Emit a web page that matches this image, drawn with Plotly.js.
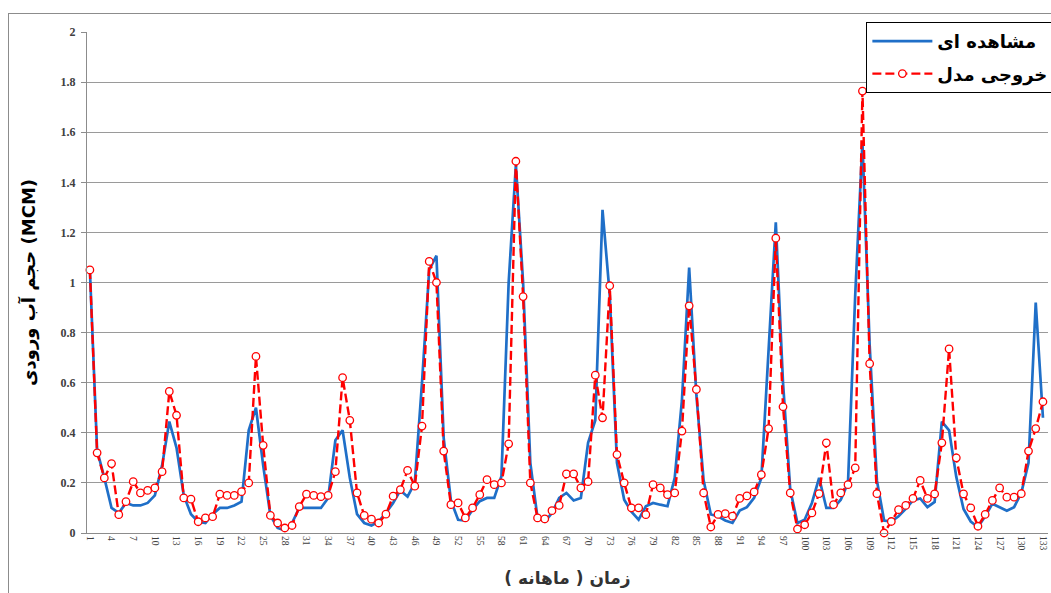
<!DOCTYPE html>
<html>
<head>
<meta charset="utf-8">
<script src="https://cdn.plot.ly/plotly-3.0.1.min.js"></script>
<style>
html,body{margin:0;padding:0;background:#fff;overflow:hidden;}
#frame{position:absolute;left:8px;top:13px;width:1100px;height:700px;border:1px solid #8c8c8c;box-sizing:border-box;}
#chart{position:absolute;left:0;top:0;width:1051px;height:593px;}
</style>
</head>
<body>
<div id="frame"></div>
<div id="chart"></div>
<script>
// Observed monthly inflow volume (MCM)
const observed = [
1.05,0.33,0.22,0.10,0.08,0.12,0.11,0.11,0.12,0.15,
0.27,0.445,0.34,0.15,0.075,0.045,0.04,0.075,0.10,0.10,
0.11,0.125,0.41,0.50,0.27,0.07,0.02,0.01,0.04,0.10,
0.10,0.10,0.10,0.14,0.37,0.41,0.22,0.075,0.04,0.03,
0.045,0.08,0.12,0.17,0.145,0.20,0.60,1.05,1.107,0.38,
0.13,0.053,0.05,0.093,0.127,0.14,0.14,0.227,1.00,1.47,
1.00,0.28,0.06,0.045,0.08,0.14,0.16,0.13,0.14,0.36,
0.45,1.29,0.95,0.28,0.133,0.085,0.053,0.107,0.12,0.113,
0.107,0.22,0.53,1.06,0.55,0.21,0.074,0.067,0.05,0.04,
0.09,0.103,0.14,0.22,0.75,1.24,0.60,0.173,0.04,0.053,
0.12,0.22,0.10,0.10,0.133,0.20,0.95,1.56,0.75,0.21,
0.05,0.046,0.067,0.096,0.13,0.138,0.103,0.124,0.445,0.41,
0.224,0.096,0.046,0.024,0.067,0.117,0.103,0.089,0.103,0.16,
0.28,0.92,0.46
];
// Model output (MCM)
const modelOut = [
1.05,0.32,0.22,0.277,0.073,0.125,0.205,0.16,0.17,0.18,
0.245,0.565,0.47,0.14,0.135,0.045,0.06,0.065,0.155,0.15,
0.15,0.165,0.20,0.705,0.35,0.07,0.04,0.02,0.03,0.105,
0.155,0.15,0.145,0.15,0.245,0.62,0.45,0.16,0.07,0.055,
0.04,0.075,0.147,0.173,0.25,0.187,0.427,1.084,1.00,0.327,
0.113,0.12,0.06,0.10,0.153,0.213,0.193,0.20,0.356,1.484,
0.944,0.20,0.06,0.056,0.089,0.11,0.236,0.236,0.18,0.205,
0.63,0.46,0.987,0.313,0.20,0.10,0.10,0.073,0.193,0.18,
0.153,0.16,0.407,0.907,0.573,0.16,0.024,0.074,0.077,0.067,
0.138,0.148,0.164,0.233,0.417,1.177,0.504,0.16,0.016,0.033,
0.08,0.157,0.36,0.113,0.16,0.193,0.26,1.764,0.676,0.157,
0.0,0.046,0.093,0.11,0.138,0.21,0.138,0.156,0.36,0.735,
0.30,0.156,0.10,0.027,0.074,0.13,0.18,0.143,0.143,0.157,
0.327,0.417,0.524
];
const tickMonths = [1,4,7,10,13,16,19,22,25,28,31,34,37,40,43,46,49,52,55,58,61,64,67,70,73,76,79,82,85,88,91,94,97,100,103,106,109,112,115,118,121,124,127,130,133];
const seriesNames = ['مشاهده ای', 'خروجی مدل'];
const xTitle = 'زمان ( ماهانه )';
const yTitle = 'حجم آب ورودی (MCM)';

const months = observed.map((_, i) => i + 1);

const traces = [
  {x: months, y: observed, name: seriesNames[0], legendgroup: 'a', type: 'scatter', mode: 'lines',
   line: {color: '#1f6fc8', width: 2.7}, cliponaxis: false},
  {x: months, y: modelOut, name: seriesNames[1], legendgroup: 'b', type: 'scatter', mode: 'lines+markers',
   line: {color: '#ff0000', width: 2.4, dash: '9px,4px'},
   marker: {symbol: 'circle', size: 7.5, color: '#ffffff', line: {color: '#ff0000', width: 1.3}},
   cliponaxis: false}
];

const layout = {
  width: 1051, height: 593,
  margin: {l: 87, r: 3, t: 32, b: 60, autoexpand: false},
  paper_bgcolor: 'rgba(0,0,0,0)', plot_bgcolor: 'rgba(0,0,0,0)',
  showlegend: true,
  legend: {x: 0.811, xanchor: 'left', y: 1.02, yanchor: 'top',
    bgcolor: '#ffffff', bordercolor: '#000000', borderwidth: 1,
    font: {family: 'DejaVu Sans', size: 18, color: '#000', weight: 'bold'},
    itemwidth: 60, traceorder: 'grouped', tracegroupgap: 6},
  xaxis: {
    range: [0.6, 133.7], tickmode: 'array', tickvals: tickMonths, ticktext: tickMonths.map(String),
    tickangle: 90, tickfont: {family: 'Liberation Serif', size: 9.5, color: '#404040'},
    showgrid: false, zeroline: false, showline: true, linecolor: '#8c8c8c', linewidth: 1,
    ticks: '',
    title: {text: xTitle, font: {family: 'DejaVu Sans', size: 17, color: '#333', weight: 'bold'}, standoff: 22}
  },
  yaxis: {
    range: [0, 2], dtick: 0.2, tick0: 0,
    tickfont: {family: 'Liberation Serif', size: 12, color: '#404040', weight: 'bold'},
    showgrid: true, gridcolor: '#9a9a9a', gridwidth: 1,
    zeroline: false, showline: true, linecolor: '#8c8c8c', linewidth: 1,
    ticks: 'outside', ticklen: 5, tickcolor: '#8c8c8c', ticklabelstandoff: 3,
    title: {text: yTitle, font: {family: 'DejaVu Sans', size: 18, color: '#000', weight: 'bold'}, standoff: 20}
  }
};

Plotly.newPlot('chart', traces, layout, {displayModeBar: false, staticPlot: true});
</script>
</body>
</html>
